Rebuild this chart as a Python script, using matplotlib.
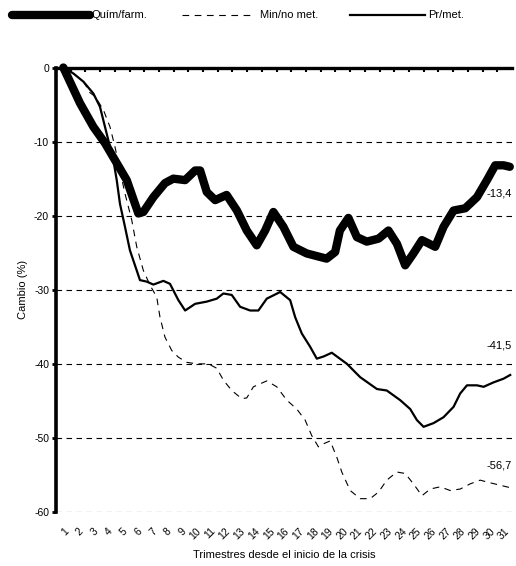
import matplotlib
matplotlib.use("Agg")
import matplotlib.pyplot as plt
from matplotlib.lines import Line2D
from matplotlib.ticker import FixedLocator

plt.rcParams["font.family"] = ["Liberation Sans", "DejaVu Sans"]

# quarters since the start of the crisis (fractional positions along the series)
quim_q = [1.0, 2.13, 3.04, 3.83, 4.51, 5.31, 6.1, 6.44, 7.12, 7.91, 8.48, 9.28,
          9.96, 10.3, 10.75, 11.32, 12.1, 12.8, 13.47, 14.15, 14.72, 15.28,
          15.96, 16.64, 17.55, 18.9, 19.48, 19.8, 20.38, 20.96, 21.63, 22.43,
          23.1, 23.68, 24.24, 24.8, 25.38, 26.28, 26.85, 27.53, 28.32, 29.12,
          29.8, 30.36, 30.93, 31.35]
quim_v = [0, -4.8, -8.0, -10.2, -12.5, -15.2, -19.7, -19.5, -17.5, -15.6, -15.0,
          -15.2, -13.9, -13.9, -16.8, -17.9, -17.2, -19.3, -22.0, -24.0, -22.0,
          -19.5, -21.5, -24.2, -25.1, -25.8, -24.9, -22.0, -20.3, -22.9, -23.5,
          -23.1, -22.0, -23.8, -26.7, -25.1, -23.3, -24.2, -21.5, -19.3, -19.0,
          -17.5, -15.2, -13.2, -13.2, -13.4]

min_q = [1.0, 1.7, 2.4, 2.81, 3.15, 3.72, 4.17, 4.51, 4.85, 5.19, 5.65, 5.99,
         6.44, 6.9, 7.35, 7.57, 7.91, 8.37, 8.82, 9.39, 10.07, 10.86, 11.43,
         11.88, 12.45, 13.13, 13.47, 13.92, 14.83, 15.51, 16.19, 16.87, 17.44,
         17.89, 18.34, 18.68, 19.14, 19.59, 19.93, 20.5, 21.18, 21.86, 22.43,
         22.99, 23.67, 24.24, 24.8, 25.38, 25.94, 26.62, 27.3, 27.98, 28.66,
         29.34, 29.9, 30.93, 31.35]
min_v = [0, -0.8, -2.0, -3.4, -3.9, -5.7, -8.0, -10.7, -13.9, -17.0, -20.6,
         -24.2, -27.4, -29.4, -31.0, -33.7, -36.4, -38.2, -39.1, -39.8, -40.0,
         -40.0, -40.6, -42.2, -43.6, -44.7, -44.6, -43.1, -42.3, -43.1, -44.9,
         -46.1, -47.6, -49.7, -51.2, -50.8, -50.4, -52.6, -54.6, -57.1, -58.2,
         -58.2, -57.3, -55.7, -54.6, -54.8, -56.2, -57.8, -56.9, -56.6, -57.1,
         -56.9, -56.2, -55.7, -56.0, -56.5, -56.7]

pr_q = [1.0, 1.68, 2.36, 3.04, 3.49, 3.83, 4.17, 4.4, 4.63, 4.85, 5.19, 5.53,
        5.99, 6.21, 6.67, 7.12, 7.8, 8.25, 8.82, 9.28, 9.96, 10.75, 11.43,
        11.88, 12.45, 13.02, 13.7, 14.26, 14.83, 15.74, 16.42, 16.76, 17.21,
        17.78, 18.23, 18.7, 19.25, 20.28, 21.18, 22.32, 22.99, 23.9, 24.58,
        25.04, 25.49, 26.17, 26.85, 27.53, 27.98, 28.44, 29.12, 29.57, 30.25,
        30.93, 31.38]
pr_v = [0, -0.8, -1.9, -3.5, -5.3, -8.0, -10.7, -12.5, -15.2, -18.4, -21.5,
        -24.7, -27.4, -28.7, -28.9, -29.3, -28.8, -29.2, -31.4, -32.8, -31.9,
        -31.6, -31.2, -30.5, -30.7, -32.3, -32.8, -32.8, -31.2, -30.3, -31.4,
        -33.7, -35.9, -37.7, -39.3, -39.0, -38.5, -40.0, -41.8, -43.4, -43.6,
        -44.9, -46.1, -47.6, -48.5, -48.0, -47.2, -45.8, -44.0, -42.9, -42.9,
        -43.1, -42.5, -42.0, -41.5]

quarters = list(range(1, 32))
end_labels = ["-13,4", "-41,5", "-56,7"]
label_y = [-17.0, -37.5, -53.7]

thick = dict(color="black", lw=6.0, solid_capstyle="round", solid_joinstyle="round")
dashed = dict(color="black", lw=0.8, linestyle=(0, (6, 5)))
thin = dict(color="black", lw=1.6, solid_joinstyle="round")

fig = plt.figure(figsize=(5.16, 5.66), dpi=100)
ax = fig.add_axes([0.1085, 0.0954, 0.8837, 0.7853])

ax.plot(quim_q, quim_v, clip_on=False, zorder=4, **thick)
ax.plot(min_q, min_v, clip_on=False, zorder=3, **dashed)
ax.plot(pr_q, pr_v, clip_on=False, zorder=3, **thin)

ax.set_xlim(0.5, 31.5)
ax.set_ylim(-60, 0)

# dashed horizontal gridlines
for y in range(-60, 0, 10):
    ax.axhline(y, color="black", lw=0.8, linestyle=(0, (5, 4)), zorder=1)

for s in ["right", "bottom"]:
    ax.spines[s].set_visible(False)
ax.spines["left"].set_linewidth(2.6)
ax.spines["top"].set_linewidth(2.4)

ax.set_yticks(range(-60, 1, 10))
ax.set_yticklabels([str(v) for v in range(-60, 1, 10)], fontsize=7.5)
ax.tick_params(axis="y", direction="out", length=3, width=2, pad=2)

ax.set_xticks(quarters)
ax.set_xticklabels([str(q) for q in quarters], rotation=45, ha="right",
                   rotation_mode="anchor", fontsize=7.5)
ax.tick_params(axis="x", which="major", length=0, pad=10)
ax.xaxis.set_minor_locator(FixedLocator([q + 0.5 for q in quarters[:-1]]))
ax.tick_params(axis="x", which="minor", top=True, bottom=False,
               direction="in", length=3, width=1.5)

ax.set_xlabel("Trimestres desde el inicio de la crisis", fontsize=8, labelpad=6)
ax.set_ylabel("Cambio (%)", fontsize=8, labelpad=4)

for txt, y in zip(end_labels, label_y):
    ax.text(31.5, y, txt, ha="right", va="center", fontsize=8)

# legend row above the plot
ly = 1 - 15 / 566
entries = [(12, 90, 92, "Quím/farm.", thick),
           (182, 250, 260, "Min/no met.", dashed),
           (350, 425, 428, "Pr/met.", thin)]
for x0, x1, xt, label, style in entries:
    fig.add_artist(Line2D([x0 / 516, x1 / 516], [ly, ly],
                          transform=fig.transFigure, **style))
    fig.text(xt / 516, ly, label, ha="left", va="center", fontsize=8)

fig.savefig("out.png", dpi=100)
plt.close(fig)
